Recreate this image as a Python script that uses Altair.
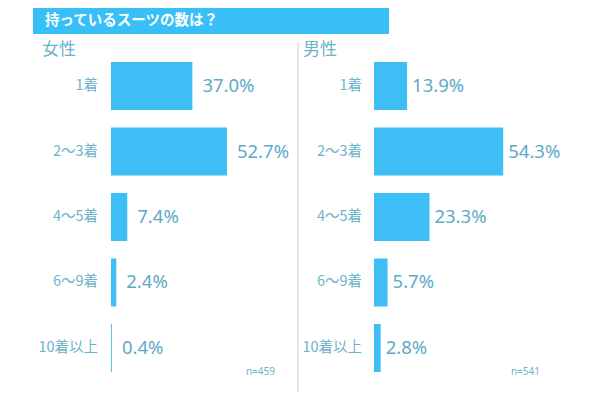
import altair as alt
import pandas as pd

# ---- data ----
sizes = ["1着", "2～3着", "4～5着", "6～9着", "10着以上"]
female = [37.0, 52.7, 7.4, 2.4, 0.4]
male = [13.9, 54.3, 23.3, 5.7, 2.8]
genders = ["女性", "男性"]
n_labels = ["n=459", "n=541"]
title = "持っているスーツの数は？"

df = pd.DataFrame({
    "size": sizes * 2,
    "gender": [genders[0]] * 5 + [genders[1]] * 5,
    "pct": female + male,
})
df["label"] = df["pct"].map(lambda v: f"{v:.1f}%")

BAR = "#3dbef4"
VAL = "#5eaac6"
CAT = "#6db3ca"
JP = "Noto Sans CJK JP"

ysc = alt.Scale(domain=sizes, range=[54, 364], paddingInner=0.267, paddingOuter=0)


def panel(g, xrange, dx, label_x, n_text, n_x, head_x):
    base = alt.Chart(df).transform_filter(alt.datum.gender == g)
    xs = alt.Scale(domain=[0, 100], range=xrange)
    y = alt.Y("size:N", scale=ysc, axis=None, sort=sizes)
    x = alt.X("pct:Q", scale=xs, axis=None)
    bars = base.mark_bar(color=BAR).encode(x=x, y=y)
    vals = base.mark_text(align="left", baseline="middle", dx=dx, fontSize=18.5,
                          color=VAL, font="Noto Sans").encode(x=x, y=y, text="label:N")
    cats = base.mark_text(align="right", baseline="middle", fontSize=14.5,
                          color=CAT, font=JP).encode(x=alt.value(label_x), y=y, text="size:N")
    head = alt.Chart(pd.DataFrame({"t": [g]})).mark_text(
        align="left", baseline="middle", fontSize=17, color=CAT, font=JP
    ).encode(text="t:N", x=alt.value(head_x), y=alt.value(42))
    ntxt = alt.Chart(pd.DataFrame({"t": [n_text]})).mark_text(
        align="right", baseline="middle", fontSize=10, color=CAT, font="Noto Sans"
    ).encode(text="t:N", x=alt.value(n_x), y=alt.value(364))
    return alt.layer(bars, vals, cats, head, ntxt)


left = panel(genders[0], [103, 323], 10, 90, n_labels[0], 267, 34)
right = panel(genders[1], [366, 604], 5, 354, n_labels[1], 532, 295)

banner = alt.Chart(pd.DataFrame({"t": [title]})).mark_rect(color="#38bff7").encode(
    x=alt.value(25), x2=alt.value(381), y=alt.value(0), y2=alt.value(26)
)
title_txt = alt.Chart(pd.DataFrame({"t": [title]})).mark_text(
    align="left", baseline="middle", fontSize=14.5, fontWeight="bold", color="white", font=JP
).encode(text="t:N", x=alt.value(37), y=alt.value(12.5))
divider = alt.Chart(pd.DataFrame({"t": [1]})).mark_rule(color="#cfcfcf", strokeWidth=1).encode(
    x=alt.value(290), y=alt.value(34), y2=alt.value(385)
)

chart = alt.layer(banner, title_txt, divider, left, right).resolve_scale(
    x="independent"
).properties(
    width=584, height=384, padding=0, autosize=alt.AutoSizeParams(type="none")
).configure_view(stroke=None)

chart.save("out.html", embed_options={"renderer": "svg", "actions": False})
